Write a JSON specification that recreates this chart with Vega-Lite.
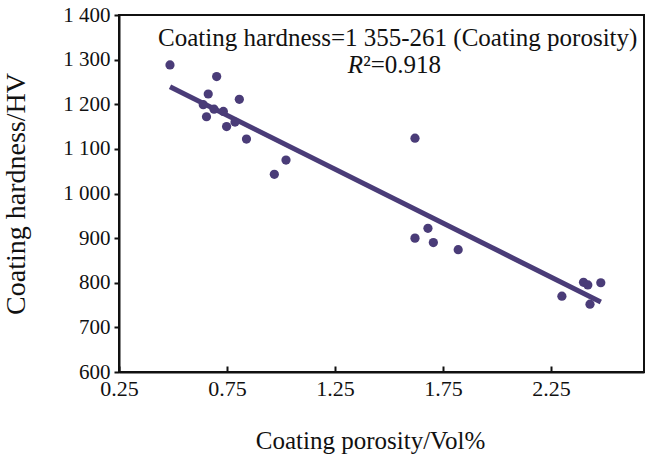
{
  "$schema": "https://vega.github.io/schema/vega-lite/v6.json",
  "autosize": {"type": "none"},
  "padding": {"left": 119, "top": 15, "right": 3, "bottom": 86},
  "width": 525,
  "height": 357,
  "background": "white",
  "config": {
    "view": {"stroke": "#111", "strokeWidth": 2},
    "font": "Liberation Serif",
    "axis": {
      "labelFont": "Liberation Serif",
      "titleFont": "Liberation Serif",
      "labelFontSize": 22,
      "titleFontSize": 25,
      "labelColor": "#111",
      "titleColor": "#111",
      "titleFontWeight": "normal",
      "domainColor": "#111",
      "domainWidth": 2,
      "tickColor": "#111",
      "tickWidth": 2,
      "grid": false
    }
  },
  "datasets": {
    "points": [
      {"porosity": 0.486, "hardness": 1288},
      {"porosity": 0.702, "hardness": 1262},
      {"porosity": 0.663, "hardness": 1223},
      {"porosity": 0.640, "hardness": 1199},
      {"porosity": 0.807, "hardness": 1211},
      {"porosity": 0.655, "hardness": 1172},
      {"porosity": 0.690, "hardness": 1189},
      {"porosity": 0.733, "hardness": 1184},
      {"porosity": 0.748, "hardness": 1150},
      {"porosity": 0.787, "hardness": 1160},
      {"porosity": 0.840, "hardness": 1122},
      {"porosity": 1.023, "hardness": 1075},
      {"porosity": 0.969, "hardness": 1043},
      {"porosity": 1.620, "hardness": 1124},
      {"porosity": 1.680, "hardness": 922},
      {"porosity": 1.620, "hardness": 900},
      {"porosity": 1.705, "hardness": 890},
      {"porosity": 1.820, "hardness": 874},
      {"porosity": 2.300, "hardness": 770},
      {"porosity": 2.400, "hardness": 801},
      {"porosity": 2.420, "hardness": 795},
      {"porosity": 2.480, "hardness": 800},
      {"porosity": 2.430, "hardness": 752}
    ],
    "fit": [
      {"porosity": 0.486, "hardness": 1239},
      {"porosity": 2.48, "hardness": 757}
    ],
    "notes": [
      {"porosity": 1.54, "hardness": 1349, "t": "Coating hardness=1 355-261 (Coating porosity)"}
    ],
    "r": [
      {"porosity": 1.38, "hardness": 1287, "t": "R"}
    ],
    "r2": [
      {"porosity": 1.38, "hardness": 1287, "t": "²=0.918"}
    ]
  },
  "layer": [
    {
      "data": {"name": "fit"},
      "mark": {"type": "line", "color": "#4a3c78", "strokeWidth": 5},
      "encoding": {
        "x": {
          "field": "porosity",
          "type": "quantitative",
          "scale": {"domain": [0.25, 2.68], "nice": false, "zero": false},
          "axis": {
            "values": [0.25, 0.75, 1.25, 1.75, 2.25],
            "format": ".2f",
            "tickSize": -6,
            "labelPadding": 12,
            "title": "Coating porosity/Vol%",
            "titleX": 251,
            "titleY": 76,
            "titleBaseline": "alphabetic",
            "labelFlush": false
          }
        },
        "y": {
          "field": "hardness",
          "type": "quantitative",
          "scale": {"domain": [600, 1400], "nice": false, "zero": false},
          "axis": {
            "values": [600, 700, 800, 900, 1000, 1100, 1200, 1300, 1400],
            "labelExpr": "datum.value >= 1000 ? '1 ' + slice(format(datum.value, 'd'), 1) : format(datum.value, 'd')",
            "tickSize": 5,
            "labelPadding": 4,
            "labelFontSize": 21,
            "title": "Coating hardness/HV",
            "titleFontSize": 28,
            "titleX": -103,
            "titleBaseline": "middle",
            "labelFlush": false
          }
        }
      }
    },
    {
      "data": {"name": "points"},
      "mark": {"type": "circle", "color": "#4a3c78", "opacity": 1, "size": 85},
      "encoding": {
        "x": {"field": "porosity", "type": "quantitative"},
        "y": {"field": "hardness", "type": "quantitative"}
      }
    },
    {
      "data": {"name": "notes"},
      "mark": {"type": "text", "font": "Liberation Serif", "fontSize": 25, "color": "#111", "align": "center", "baseline": "middle"},
      "encoding": {
        "x": {"field": "porosity", "type": "quantitative"},
        "y": {"field": "hardness", "type": "quantitative"},
        "text": {"field": "t", "type": "nominal"}
      }
    },
    {
      "data": {"name": "r"},
      "mark": {"type": "text", "font": "Liberation Serif", "fontSize": 25, "fontStyle": "italic", "color": "#111", "align": "right", "baseline": "middle"},
      "encoding": {
        "x": {"field": "porosity", "type": "quantitative"},
        "y": {"field": "hardness", "type": "quantitative"},
        "text": {"field": "t", "type": "nominal"}
      }
    },
    {
      "data": {"name": "r2"},
      "mark": {"type": "text", "font": "Liberation Serif", "fontSize": 25, "color": "#111", "align": "left", "baseline": "middle"},
      "encoding": {
        "x": {"field": "porosity", "type": "quantitative"},
        "y": {"field": "hardness", "type": "quantitative"},
        "text": {"field": "t", "type": "nominal"}
      }
    }
  ]
}
